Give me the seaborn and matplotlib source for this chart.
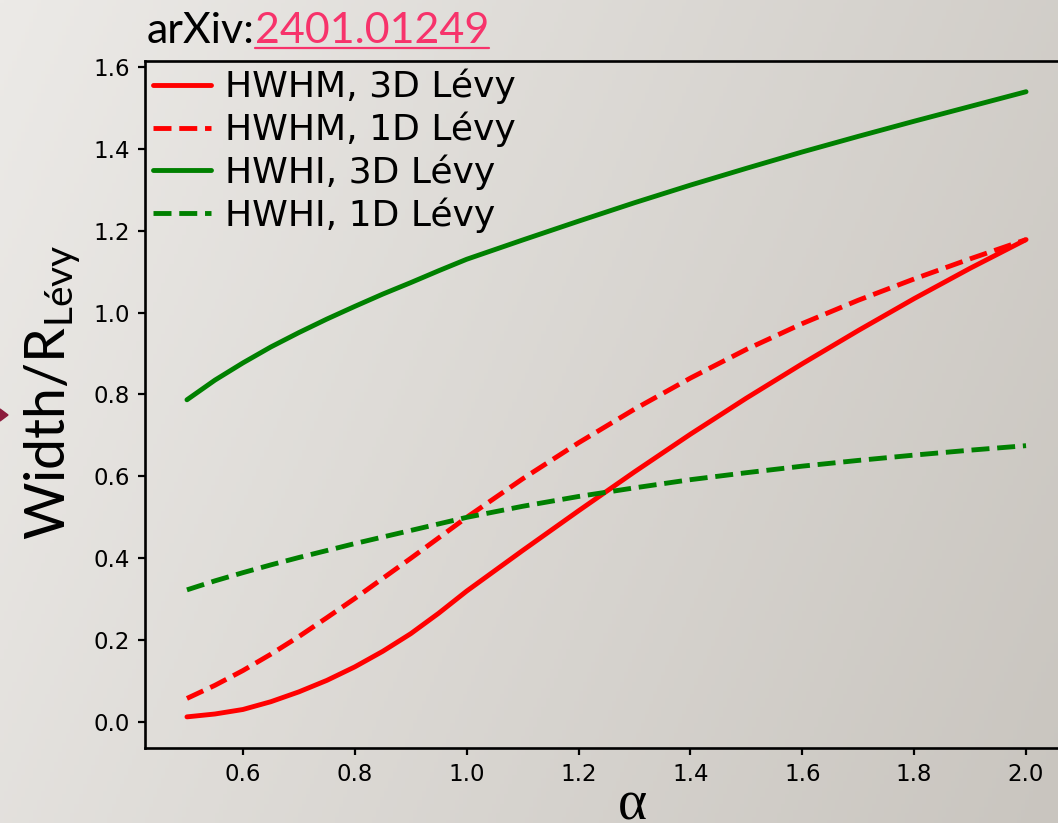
import numpy as np
import pandas as pd
import matplotlib
matplotlib.use("Agg")
import matplotlib.pyplot as plt
from matplotlib.lines import Line2D
from matplotlib.patches import Polygon
import seaborn as sns

# Lévy stability index (denser sampling where the curves bend most)
alpha = [0.50, 0.55, 0.60, 0.65, 0.70, 0.75, 0.80, 0.85, 0.90, 0.95, 1.00,
         1.1, 1.2, 1.3, 1.4, 1.5, 1.6, 1.7, 1.8, 1.9, 2.0]

# widths in units of R_Lévy
hwhm_3d = [0.013, 0.020, 0.031, 0.050, 0.074, 0.102, 0.135, 0.173, 0.216, 0.266, 0.320,
           0.419, 0.516, 0.611, 0.703, 0.791, 0.875, 0.956, 1.034, 1.108, 1.178]
hwhm_1d = [0.058, 0.090, 0.126, 0.166, 0.209, 0.255, 0.302, 0.351, 0.400, 0.450, 0.500,
           0.594, 0.682, 0.764, 0.840, 0.910, 0.973, 1.030, 1.082, 1.131, 1.178]
hwhi_3d = [0.787, 0.835, 0.877, 0.916, 0.951, 0.984, 1.015, 1.045, 1.073, 1.102, 1.130,
           1.177, 1.223, 1.268, 1.311, 1.352, 1.392, 1.430, 1.467, 1.503, 1.539]
hwhi_1d = [0.323, 0.345, 0.365, 0.384, 0.402, 0.419, 0.436, 0.452, 0.468, 0.484, 0.500,
           0.527, 0.551, 0.572, 0.592, 0.609, 0.625, 0.639, 0.652, 0.664, 0.675]

series_labels = ["HWHM, 3D Lévy", "HWHM, 1D Lévy", "HWHI, 3D Lévy", "HWHI, 1D Lévy"]
series_colors = ["#ff0000", "#ff0000", "#008000", "#008000"]
series_styles = ["-", "--", "-", "--"]

x_ticks = [0.6, 0.8, 1.0, 1.2, 1.4, 1.6, 1.8, 2.0]
y_ticks = [0.0, 0.2, 0.4, 0.6, 0.8, 1.0, 1.2, 1.4, 1.6]

df = pd.DataFrame({
    "alpha": alpha * 4,
    "width": hwhm_3d + hwhm_1d + hwhi_3d + hwhi_1d,
    "curve": [lab for lab in series_labels for _ in alpha],
})

sns.set_theme(style="ticks")
plt.rcParams["font.family"] = ["DejaVu Sans"]
plt.rcParams["text.color"] = "black"
plt.rcParams["legend.labelcolor"] = "black"
plt.rcParams["mathtext.fontset"] = "custom"
plt.rcParams["mathtext.rm"] = "Lato"
plt.rcParams["mathtext.it"] = "Lato:italic"
plt.rcParams["mathtext.bf"] = "Lato:bold"

W, H = 1058, 823
fig = plt.figure(figsize=(W / 100, H / 100), dpi=100)

# slide background: soft grey gradient
bg = fig.add_axes([0, 0, 1, 1], zorder=-10)
gx, gy = np.meshgrid(np.linspace(0, 1, 256), np.linspace(0, 1, 256))
t = 0.75 * gx + 0.25 * gy
c_light = np.array([236, 234, 231]) / 255
c_dark = np.array([201, 197, 191]) / 255
img = c_light + (c_dark - c_light) * t[..., None]
bg.imshow(img, aspect="auto", extent=[0, 1, 0, 1], origin="upper")
bg.axis("off")

ax = fig.add_axes([145 / W, 1 - 748 / H, (1068 - 145) / W, (748 - 61) / H])
ax.set_facecolor("none")

for lab, col, ls in zip(series_labels, series_colors, series_styles):
    sns.lineplot(data=df[df["curve"] == lab], x="alpha", y="width", color=col,
                 linestyle=ls, linewidth=3.5, label=lab, ax=ax, sort=False,
                 errorbar=None)

ax.set_xlim(0.425, 2.075)
ax.set_ylim(-0.063, 1.614)
ax.set_xticks(x_ticks)
ax.set_yticks(y_ticks)
ax.set_xticklabels([f"{v:.1f}" for v in x_ticks])
ax.set_yticklabels([f"{v:.1f}" for v in y_ticks])
ax.set_xlabel("")
ax.set_ylabel("")
ax.tick_params(labelsize=16.5, length=5, width=1.6, pad=6, colors="black")
for sp in ax.spines.values():
    sp.set_linewidth(1.9)
    sp.set_color("black")
    sp.set_visible(True)

leg = ax.legend(loc="upper left", bbox_to_anchor=(0, 1), frameon=False, fontsize=26,
                handlelength=1.6, handletextpad=0.4, labelspacing=0.2,
                borderaxespad=0.12, borderpad=0.1)
for txt in leg.get_texts():
    txt.set_color("black")

# axis titles in the slide font
fig.text(65 / W, 1 - 540 / H, r"Width/R$_{\mathrm{Lévy}}$", rotation=90,
         rotation_mode="anchor", ha="left", va="baseline", fontsize=40,
         family="Lato", color="black")
fig.text(632 / W, 1 - 819 / H, "α", fontsize=40, family="Liberation Serif",
         ha="center", va="baseline", color="black")

# reference line on top
t1 = fig.text(147 / W, 1 - 43 / H, "arXiv:", fontsize=31, family="Lato",
              ha="left", va="baseline", color="black")
fig.canvas.draw()
r = fig.canvas.get_renderer()
e1 = t1.get_window_extent(r)
t2 = fig.text(e1.x1 / W, 1 - 43 / H, "2401.01249", fontsize=31, family="Lato",
              ha="left", va="baseline", color="#f7336b")
e2 = t2.get_window_extent(r)
fig.add_artist(Line2D([e2.x0 / W, e2.x1 / W], [1 - 47.5 / H, 1 - 47.5 / H],
                      transform=fig.transFigure, color="#f7336b", linewidth=1.6))

# arrow tip at the left edge of the slide
fig.add_artist(Polygon([[0, 1 - 409 / H], [8 / W, 1 - 415 / H], [0, 1 - 421 / H]],
                       closed=True, transform=fig.transFigure, color="#8c1c3c"))

fig.savefig("out.png", dpi=100)
